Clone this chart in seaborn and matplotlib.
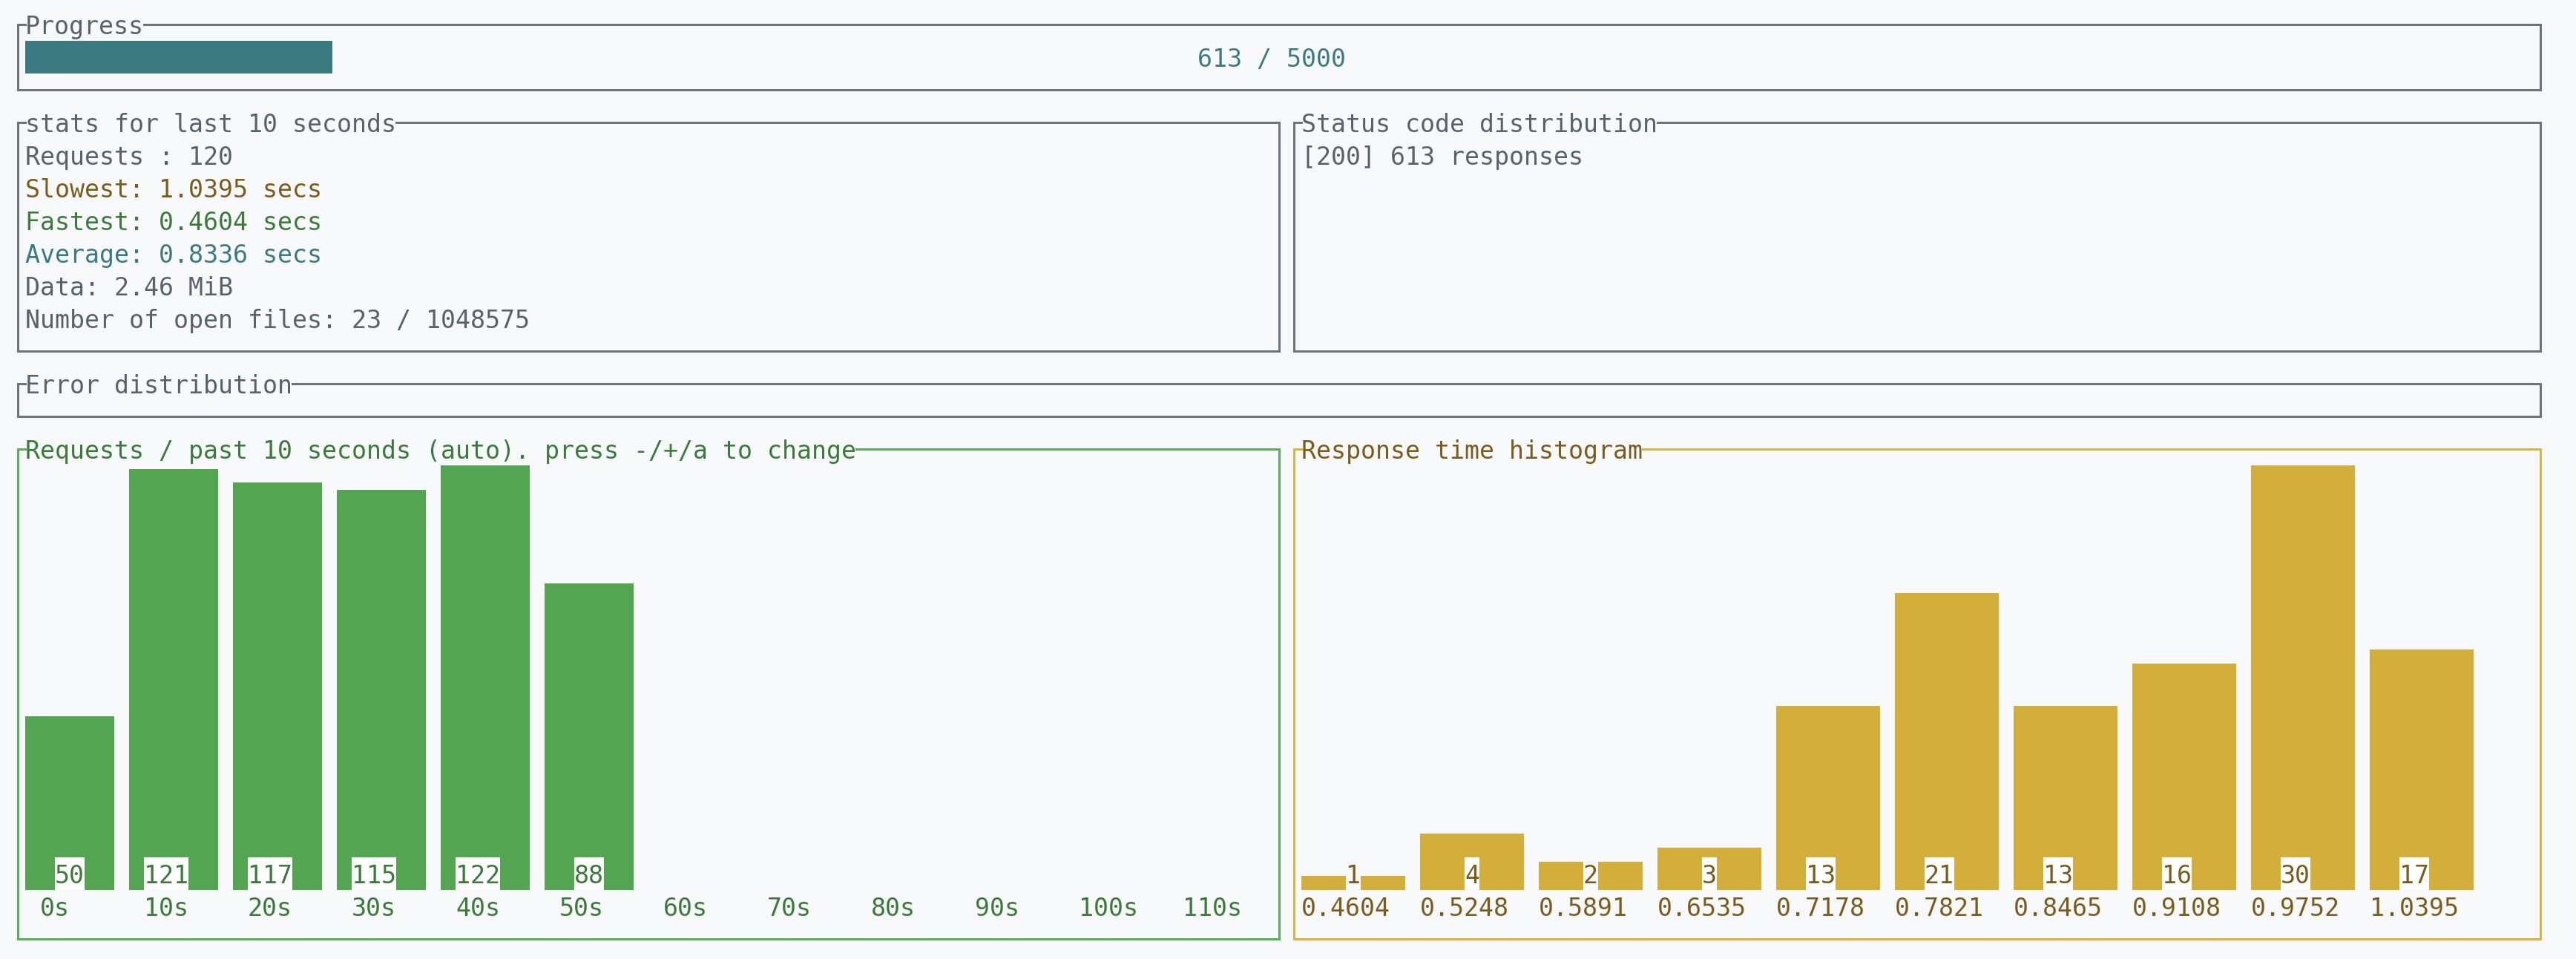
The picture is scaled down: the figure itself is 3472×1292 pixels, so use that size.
import matplotlib
matplotlib.use("Agg")
import matplotlib.pyplot as plt
import matplotlib.transforms as mtransforms
from matplotlib.patches import Rectangle
import seaborn as sns
import pandas as pd

# ---------------- data ----------------
done_requests = 613
total_requests = 5000
stats_requests = 120
slowest_secs = 1.0395
fastest_secs = 0.4604
average_secs = 0.8336
data_mib = 2.46
open_files = 23
open_files_limit = 1048575
status_codes = ["200"]
status_counts = [613]

rps_labels = ["0s", "10s", "20s", "30s", "40s", "50s", "60s", "70s", "80s", "90s", "100s", "110s"]
rps_seen = ["0s", "10s", "20s", "30s", "40s", "50s"]
rps_values = [50, 121, 117, 115, 122, 88]

hist_labels = ["0.4604", "0.5248", "0.5891", "0.6535", "0.7178",
               "0.7821", "0.8465", "0.9108", "0.9752", "1.0395"]
hist_counts = [1, 4, 2, 3, 13, 21, 13, 16, 30, 17]

# ---------------- style ----------------
BG = "#f6f8fa"
GRAY_TXT = "#59616a"
GRAY_BOX = "#6c737b"
BROWN = "#7a5c1c"
GREEN_TXT = "#3b7a3a"
TEAL = "#3b7a80"
GREEN_BAR = "#53a551"
GREEN_BOX = "#5cad5a"
YELLOW_BAR = "#d4ae3b"
YELLOW_BOX = "#d8b440"

sns.set_theme(style="white")
plt.rcParams["font.family"] = ["DejaVu Sans Mono", "DejaVu Sans"]

W, H = 3472, 1292
CW, RH = 20, 44          # terminal cell size in px
X0, Y0 = 14, 11          # grid origin
FS = 33.22 * 72 / 100    # font size giving 20 px advance
BASE = 35                # baseline offset inside a row
LW = 3 * 72 / 100        # 3 px lines


def cx(c):
    return X0 + CW * c


def ry(r):
    return Y0 + RH * r


fig = plt.figure(figsize=(W / 100, H / 100), dpi=100, facecolor=BG)
bg = fig.add_axes([0, 0, 1, 1])
bg.set_xlim(0, W)
bg.set_ylim(H, 0)
bg.set_axis_off()
bg.set_facecolor(BG)


def put(col, row, s, color):
    bg.text(cx(col), ry(row) + BASE, s, ha="left", va="baseline",
            fontsize=FS, color=color)


def box(c0, r0, c1, r1, color, title, tcolor):
    xl, xr = cx(c0) + 10, cx(c1) + 10
    yt, yb = ry(r0) + 22, ry(r1) + 22
    kw = dict(color=color, lw=LW, solid_capstyle="projecting")
    bg.plot([xl, xl], [yt, yb], **kw)
    bg.plot([xr, xr], [yt, yb], **kw)
    bg.plot([xl, xr], [yb, yb], **kw)
    bg.plot([xl, cx(c0 + 1)], [yt, yt], **kw)
    bg.plot([cx(c0 + 1 + len(title)), xr], [yt, yt], **kw)
    put(c0 + 1, r0, title, tcolor)


def axes_px(left, top, right, bottom):
    return fig.add_axes([left / W, 1 - bottom / H, (right - left) / W, (bottom - top) / H])


# ---------------- boxes ----------------
box(0, 0, 170, 2, GRAY_BOX, "Progress", GRAY_TXT)
box(0, 3, 85, 10, GRAY_BOX, "stats for last 10 seconds", GRAY_TXT)
box(86, 3, 170, 10, GRAY_BOX, "Status code distribution", GRAY_TXT)
box(0, 11, 170, 12, GRAY_BOX, "Error distribution", GRAY_TXT)
box(0, 13, 85, 28, GREEN_BOX, "Requests / past 10 seconds (auto). press -/+/a to change", GREEN_TXT)
box(86, 13, 170, 28, YELLOW_BOX, "Response time histogram", BROWN)

# ---------------- progress gauge ----------------
pax = axes_px(cx(1), ry(1), cx(170), ry(2))
pax.barh([0], [done_requests], height=1.0, color=TEAL, left=0, linewidth=0)
pax.set_xlim(0, total_requests)
pax.set_ylim(-0.5, 0.5)
pax.set_axis_off()
pax.patch.set_alpha(0)
ptxt = f"{done_requests} / {total_requests}"
put(1 + (169 - len(ptxt)) // 2, 1, ptxt, TEAL)

# ---------------- stats text ----------------
put(1, 4, f"Requests : {stats_requests}", GRAY_TXT)
put(1, 5, f"Slowest: {slowest_secs:.4f} secs", BROWN)
put(1, 6, f"Fastest: {fastest_secs:.4f} secs", GREEN_TXT)
put(1, 7, f"Average: {average_secs:.4f} secs", TEAL)
put(1, 8, f"Data: {data_mib:.2f} MiB", GRAY_TXT)
put(1, 9, f"Number of open files: {open_files} / {open_files_limit}", GRAY_TXT)
for k, (code, cnt) in enumerate(zip(status_codes, status_counts)):
    put(87, 4 + k, f"[{code}] {cnt} responses", GRAY_TXT)


# ---------------- bar charts ----------------
def bar_panel(col0, ncat, bar_cols, pitch_cols, cats, seen, vals, order,
              bar_color, txt_color, tick_off):
    left = cx(col0)
    right = left + ncat * pitch_cols * CW
    top, bottom = ry(14), ry(27)
    height_px = bottom - top
    ax = axes_px(left, top, right, bottom)
    df = pd.DataFrame({"cat": seen, "val": vals})
    bw = bar_cols / pitch_cols
    sns.barplot(data=df, x="cat", y="val", order=order, color=bar_color,
                width=bw, saturation=1, linewidth=0, ax=ax)
    ymax = max(vals)
    ax.set_xlim(-bw / 2, ncat - bw / 2)
    ax.set_ylim(0, ymax)
    ax.set_axis_off()
    ax.patch.set_alpha(0)
    tr = mtransforms.blended_transform_factory(ax.transData, ax.transAxes)
    dc = 1 / pitch_cols
    cell_h = RH / height_px
    for name, v in zip(seen, vals):
        i = order.index(name)
        s = str(v)
        x0 = i - bw / 2 + ((bar_cols - len(s)) // 2) * dc
        fill = "white" if v / ymax * height_px >= RH else BG
        ax.add_patch(Rectangle((x0, 0), len(s) * dc, cell_h, transform=tr,
                               facecolor=fill, edgecolor="none", zorder=5))
        ax.text(x0, (RH - BASE) / height_px, s, transform=tr, ha="left",
                va="baseline", fontsize=FS, color=txt_color, zorder=6)
    for i, lab in enumerate(order):
        x0 = i - bw / 2 + tick_off * dc
        ax.text(x0, -BASE / height_px, lab, transform=tr, ha="left",
                va="baseline", fontsize=FS, color=txt_color, clip_on=False)
    return ax


bar_panel(1, len(rps_labels), 6, 7, rps_labels, rps_seen, rps_values, rps_labels,
          GREEN_BAR, GREEN_TXT, 1)
bar_panel(87, len(hist_labels), 7, 8, hist_labels, hist_labels, hist_counts, hist_labels,
          YELLOW_BAR, BROWN, 0)

fig.savefig("out.png", dpi=100, facecolor=BG)
